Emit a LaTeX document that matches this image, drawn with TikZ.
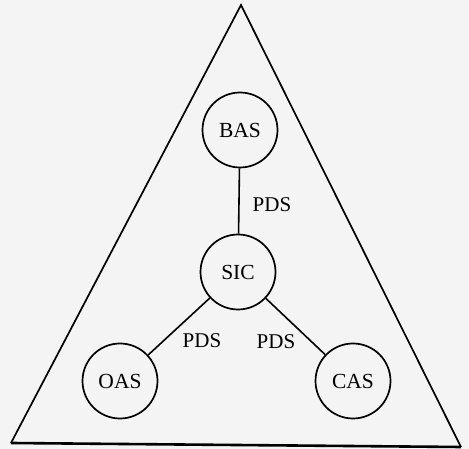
\documentclass[tikz,border=0pt]{standalone}
\usepackage{fontspec}
\setmainfont{Liberation Serif}
\begin{document}
\begin{tikzpicture}[x=1pt,y=-1pt,
  sys/.style={circle,draw=black,line width=1.7pt,minimum size=75pt,inner sep=0pt,font=\fontsize{21.5}{24}\selectfont},
  link/.style={draw=black,line width=1.6pt},
  lbl/.style={font=\fontsize{21}{24}\selectfont,inner sep=0pt}]
\fill[gray!9] (0,0) rectangle (469,449);
\useasboundingbox (0,0) rectangle (469,449);
\coordinate (top) at (241,5);
\coordinate (bl) at (11,443);
\coordinate (br) at (461,447);
\draw[line width=1.7pt,line join=miter] (bl) -- (top) -- (br);
\draw[line width=2.6pt] (bl) -- (br);
\node[sys] (bas) at (240,130) {BAS};
\node[sys] (sic) at (238,272) {SIC};
\node[sys] (oas) at (120,381) {OAS};
\node[sys] (cas) at (353,381) {CAS};
\draw[link] (bas) -- (sic);
\draw[link] (sic) -- (oas);
\draw[link] (sic) -- (cas);
\node[lbl] (p1) at (272,205) {PDS};
\node[lbl] (p2) at (202,341) {PDS};
\node[lbl] (p3) at (276,342) {PDS};
\end{tikzpicture}
\end{document}
